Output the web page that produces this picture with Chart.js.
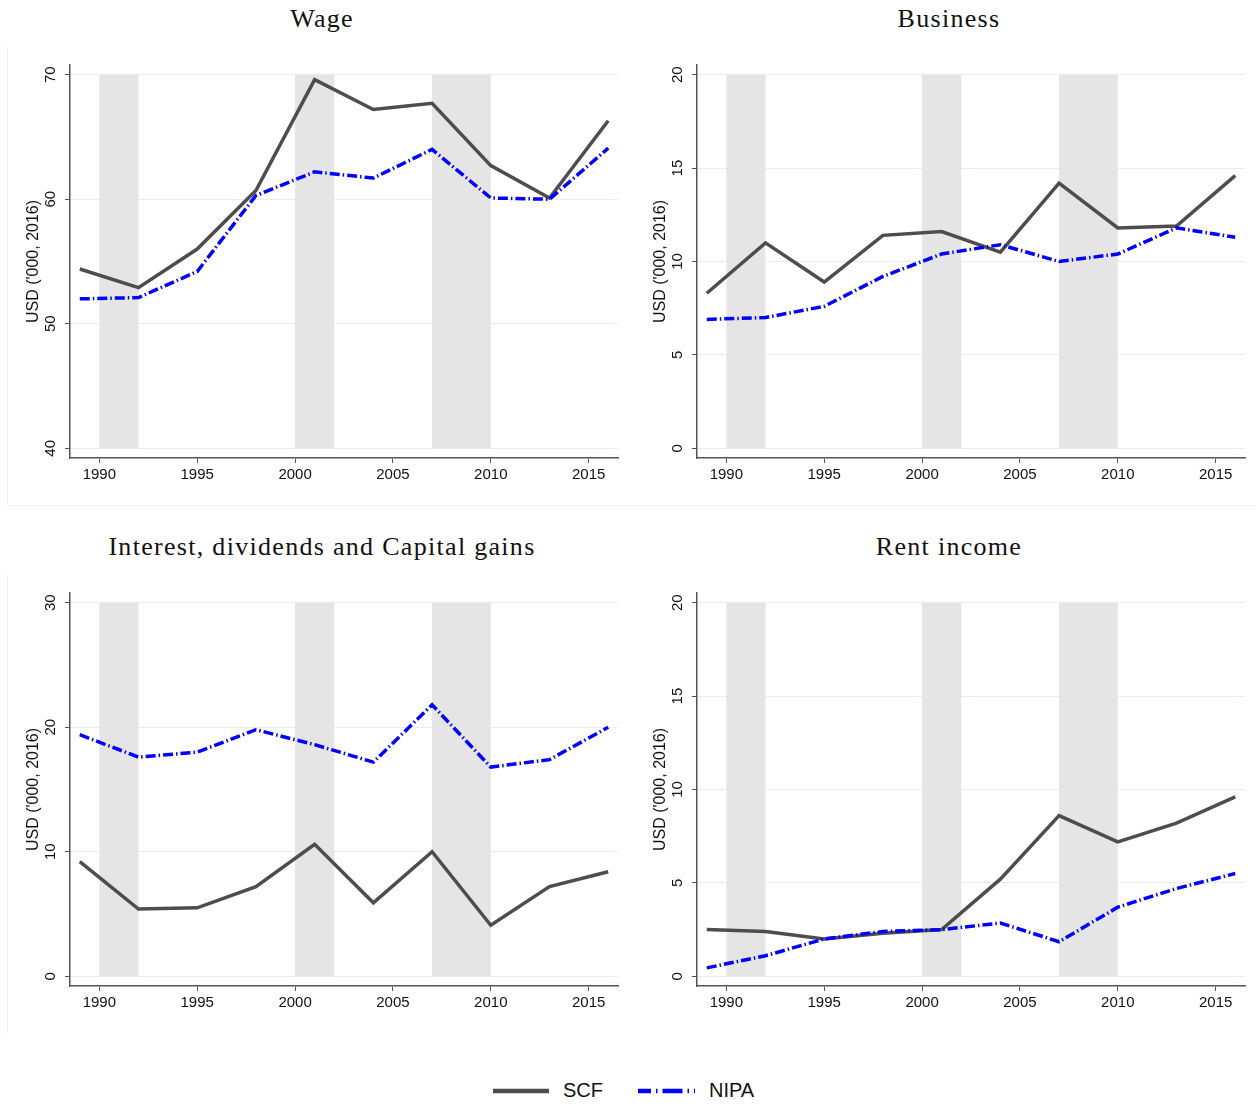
<!DOCTYPE html>
<html>
<head>
<meta charset="utf-8">
<script src="https://cdn.jsdelivr.net/npm/chart.js@4.4.1/dist/chart.umd.min.js"></script>
<style>
    body { margin: 0; background: #fff; }
    #page { position: relative; width: 1256px; height: 1105px; overflow: hidden; background: #fff; }
    canvas { position: absolute; }
    .panel-title {
        position: absolute;
        width: 630px;
        text-align: center;
        font-family: 'Liberation Serif', serif;
        font-size: 26px;
        letter-spacing: 1.3px;
        line-height: 30px;
        color: #111;
        white-space: nowrap;
    }
    .frame-v { position: absolute; width: 1px; background: #eef2f3; }
    .frame-h { position: absolute; height: 1px; background: #eef2f3; }
    #legend { position: absolute; left: 0; top: 1075px; }
</style>
</head>
<body>
<div id="page">
    <div class="frame-v" style="left:7px; top:47px; height:458px;"></div>
    <div class="frame-v" style="left:7px; top:575px; height:458px;"></div>
    <div class="frame-h" style="left:7px; top:505px; width:1249px;"></div>

    <div class="panel-title" style="left:7px; top:4px;">Wage</div>
    <div class="panel-title" style="left:634px; top:4px;">Business</div>
    <div class="panel-title" style="left:7px; top:532px;">Interest, dividends and Capital gains</div>
    <div class="panel-title" style="left:634px; top:532px;">Rent income</div>

    <canvas id="wageChart" width="630" height="458" style="left:7px; top:47px;"></canvas>
    <canvas id="businessChart" width="622" height="458" style="left:634px; top:47px;"></canvas>
    <canvas id="capitalChart" width="630" height="458" style="left:7px; top:575px;"></canvas>
    <canvas id="rentChart" width="622" height="458" style="left:634px; top:575px;"></canvas>

    <svg id="legend" width="1256" height="30">
        <line x1="493" y1="16" x2="549" y2="16" stroke="#4d4d4d" stroke-width="4.5"/>
        <text x="563" y="22" font-family="Liberation Sans, Arial, sans-serif" font-size="20" fill="#111">SCF</text>
        <line x1="638" y1="16" x2="695" y2="16" stroke="#0000ff" stroke-width="4.5"
              stroke-dasharray="20 5 1.5 5" stroke-dashoffset="7"/>
        <text x="709" y="22" font-family="Liberation Sans, Arial, sans-serif" font-size="20" fill="#111">NIPA</text>
    </svg>
</div>

<script>
// survey years (SCF waves)
const YEARS = [1989, 1992, 1995, 1998, 2001, 2004, 2007, 2010, 2013, 2016];
const X_TICKS = [1990, 1995, 2000, 2005, 2010, 2015];
const RECESSIONS = [[1990, 1992], [2000, 2002], [2007, 2010]];

// thousands of 2016 USD
const wageScf = [54.4, 52.9, 56.0, 60.7, 69.6, 67.2, 67.7, 62.7, 60.1, 66.3];
const wageNipa = [52.0, 52.1, 54.2, 60.3, 62.2, 61.7, 64.0, 60.1, 60.0, 64.1];
const businessScf = [8.3, 11.0, 8.9, 11.4, 11.6, 10.5, 14.2, 11.8, 11.9, 14.6];
const businessNipa = [6.9, 7.0, 7.6, 9.2, 10.4, 10.9, 10.0, 10.4, 11.8, 11.3];
const capitalScf = [9.2, 5.4, 5.5, 7.2, 10.6, 5.9, 10.0, 4.1, 7.2, 8.4];
const capitalNipa = [19.4, 17.6, 18.0, 19.8, 18.6, 17.2, 21.8, 16.8, 17.4, 20.0];
const rentScf = [2.5, 2.4, 2.0, 2.3, 2.5, 5.2, 8.6, 7.2, 8.2, 9.6];
const rentNipa = [0.45, 1.1, 2.0, 2.4, 2.5, 2.85, 1.85, 3.7, 4.7, 5.5];

const wageTicks = [40, 50, 60, 70];
const businessTicks = [0, 5, 10, 15, 20];
const capitalTicks = [0, 10, 20, 30];
const rentTicks = [0, 5, 10, 15, 20];

const AXIS_COLOR = '#555555';
const GRID_COLOR = '#e6eef0';
const SHADE_COLOR = '#e5e5e5';
const SCF_COLOR = '#4d4d4d';
const NIPA_COLOR = '#0000ff';

Chart.defaults.font.family = "'Liberation Sans', Arial, sans-serif";
Chart.defaults.color = '#111';

// gris para los periodos de recesion, solo dentro del rango de ticks
const recessionShading = {
    id: 'recessionShading',
    beforeDatasetsDraw(chart) {
        const xs = chart.scales.x;
        const ys = chart.scales.y;
        const ticks = ys.options.tickValues;
        const top = ys.getPixelForValue(ticks[ticks.length - 1]);
        const bottom = ys.getPixelForValue(ticks[0]);
        const ctx = chart.ctx;
        ctx.save();
        ctx.fillStyle = SHADE_COLOR;
        RECESSIONS.forEach(([a, b]) => {
            const x0 = xs.getPixelForValue(a);
            const x1 = xs.getPixelForValue(b);
            ctx.fillRect(x0, top, x1 - x0, bottom - top);
        });
        ctx.restore();
    }
};

function toPoints(values) {
    return YEARS.map((year, i) => ({ x: year, y: values[i] }));
}

function buildPanel(canvasId, scf, nipa, yTicks, rightPad) {
    const ctx = document.getElementById(canvasId);
    const span = yTicks[yTicks.length - 1] - yTicks[0];
    const margin = span * 0.026;

    return new Chart(ctx, {
        type: 'line',
        data: {
            datasets: [
                {
                    label: 'SCF',
                    data: toPoints(scf),
                    borderColor: SCF_COLOR,
                    borderWidth: 3.5,
                    pointRadius: 0,
                    tension: 0,
                    order: 1
                },
                {
                    label: 'NIPA',
                    data: toPoints(nipa),
                    borderColor: NIPA_COLOR,
                    borderWidth: 3.5,
                    borderDash: [10, 3, 1.5, 3],
                    pointRadius: 0,
                    tension: 0,
                    order: 0
                }
            ]
        },
        options: {
            responsive: false,
            animation: false,
            devicePixelRatio: 1,
            layout: { padding: { top: 18, right: rightPad, bottom: 0, left: 0 } },
            plugins: {
                legend: { display: false },
                title: { display: false },
                tooltip: { enabled: false }
            },
            scales: {
                x: {
                    type: 'linear',
                    min: 1988.5,
                    max: 2016.5,
                    afterBuildTicks: scale => {
                        scale.ticks = X_TICKS.map(v => ({ value: v }));
                    },
                    afterFit: scale => { scale.height = 47; },
                    grid: {
                        drawOnChartArea: false,
                        drawTicks: true,
                        tickLength: 5,
                        tickColor: AXIS_COLOR
                    },
                    border: { display: true, color: AXIS_COLOR, width: 1.5 },
                    ticks: {
                        autoSkip: false,
                        maxRotation: 0,
                        padding: 3,
                        font: { size: 15 },
                        callback: v => String(v)
                    }
                },
                y: {
                    type: 'linear',
                    min: yTicks[0] - margin,
                    max: yTicks[yTicks.length - 1] + margin,
                    tickValues: yTicks,
                    afterBuildTicks: scale => {
                        scale.ticks = yTicks.map(v => ({ value: v }));
                    },
                    afterFit: scale => { scale.width = 63; },
                    grid: {
                        color: GRID_COLOR,
                        lineWidth: 1,
                        drawTicks: true,
                        tickLength: 5,
                        tickColor: AXIS_COLOR
                    },
                    border: { display: true, color: AXIS_COLOR, width: 1.5 },
                    ticks: {
                        minRotation: 90,
                        maxRotation: 90,
                        crossAlign: 'center',
                        padding: 6,
                        font: { size: 15 },
                        callback: v => String(v)
                    },
                    title: {
                        display: true,
                        text: "USD ('000, 2016)",
                        font: { size: 16 },
                        color: '#111',
                        padding: { top: 17, bottom: 0 }
                    }
                }
            }
        },
        plugins: [recessionShading]
    });
}

buildPanel('wageChart', wageScf, wageNipa, wageTicks, 19);
buildPanel('businessChart', businessScf, businessNipa, businessTicks, 11);
buildPanel('capitalChart', capitalScf, capitalNipa, capitalTicks, 19);
buildPanel('rentChart', rentScf, rentNipa, rentTicks, 11);
</script>
</body>
</html>
